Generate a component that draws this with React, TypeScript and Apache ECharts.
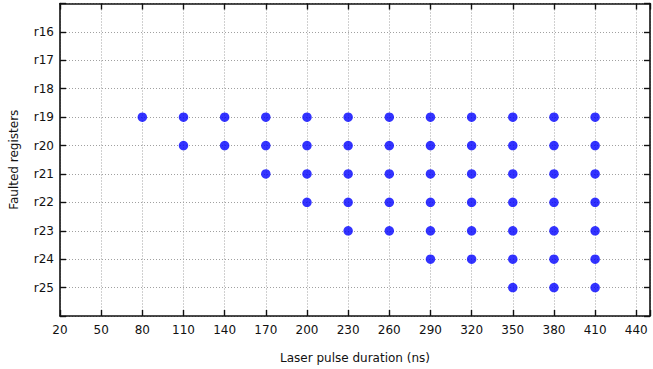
import React, { useEffect, useRef } from "react";
import * as echarts from "echarts";

const registerNumbers = [19, 20, 21, 22, 23, 24, 25];
const r19Durations = [80, 110, 140, 170, 200, 230, 260, 290, 320, 350, 380, 410];
const r20Durations = [110, 140, 170, 200, 230, 260, 290, 320, 350, 380, 410];
const r21Durations = [170, 200, 230, 260, 290, 320, 350, 380, 410];
const r22Durations = [200, 230, 260, 290, 320, 350, 380, 410];
const r23Durations = [230, 260, 290, 320, 350, 380, 410];
const r24Durations = [290, 320, 350, 380, 410];
const r25Durations = [350, 380, 410];
const durationsByRegister = [r19Durations, r20Durations, r21Durations, r22Durations, r23Durations, r24Durations, r25Durations];

const xMin = 20;
const xMax = 450;
const xStep = 30;
const yMin = 15;
const yMax = 26;
const yLabelFirst = 16;
const yLabelLast = 25;

const FONT = "DejaVu Sans";

export default function App() {
  const ref = useRef<HTMLDivElement>(null);
  useEffect(() => {
    if (!ref.current) return;
    const chart = echarts.init(ref.current, undefined, { renderer: "svg" });
    const points: number[][] = [];
    registerNumbers.forEach((r, i) => {
      durationsByRegister[i].forEach((d) => points.push([d, r]));
    });
    const lineStyle = { color: "#111", width: 1.6 };
    const tickStyle = { color: "#111", width: 1.4 };
    const gridLine = { show: true, lineStyle: { color: "#a0a0a0", type: [1, 2] as any, width: 1 } };
    const xLabel = (v: number) => (v >= xMax ? "" : String(v));
    const yLabel = (v: number) => (v >= yLabelFirst && v <= yLabelLast ? "r" + v : "");
    const textStyle = { color: "#111", fontFamily: FONT, fontSize: 12 };
    chart.setOption({
      animation: false,
      grid: { left: 58.5, top: 3.5, width: 596, height: 312.5, containLabel: false },
      xAxis: [
        {
          type: "value",
          min: xMin,
          max: xMax,
          interval: xStep,
          position: "bottom",
          axisLine: { show: true, lineStyle },
          axisTick: { show: true, inside: true, length: 6, lineStyle: tickStyle },
          axisLabel: { formatter: xLabel, ...textStyle, margin: 8 },
          splitLine: gridLine,
          name: "Laser pulse duration (ns)",
          nameLocation: "middle",
          nameGap: 36,
          nameTextStyle: textStyle,
        },
        {
          type: "value",
          min: xMin,
          max: xMax,
          interval: xStep,
          position: "top",
          axisLine: { show: true, lineStyle },
          axisTick: { show: true, inside: true, length: 6, lineStyle: tickStyle },
          axisLabel: { show: false },
          splitLine: { show: false },
        },
      ],
      yAxis: [
        {
          type: "value",
          min: yMin,
          max: yMax,
          interval: 1,
          inverse: true,
          position: "left",
          axisLine: { show: true, lineStyle },
          axisTick: { show: true, inside: true, length: 6, lineStyle: tickStyle },
          axisLabel: { formatter: yLabel, ...textStyle, margin: 6 },
          splitLine: gridLine,
          name: "Faulted registers",
          nameLocation: "middle",
          nameGap: 40,
          nameTextStyle: textStyle,
        },
        {
          type: "value",
          min: yMin,
          max: yMax,
          interval: 1,
          inverse: true,
          position: "right",
          axisLine: { show: true, lineStyle },
          axisTick: { show: true, inside: true, length: 6, lineStyle: tickStyle },
          axisLabel: { show: false },
          splitLine: { show: false },
        },
      ],
      series: [
        {
          type: "scatter",
          xAxisIndex: 0,
          yAxisIndex: 0,
          data: points,
          symbol: "circle",
          symbolSize: 9.5,
          itemStyle: { color: "#0000ff" },
        },
      ],
    });
    return () => chart.dispose();
  }, []);
  return <div ref={ref} style={{ width: 653, height: 369, position: "absolute", left: 0, top: 0 }} />;
}
